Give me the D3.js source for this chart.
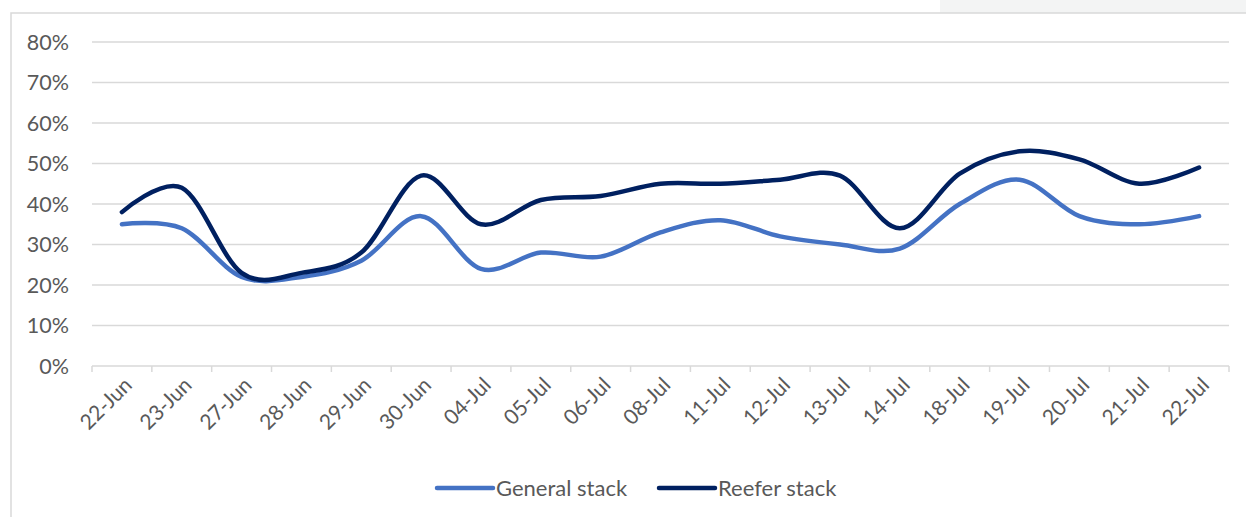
<!DOCTYPE html>
<html>
<head>
<meta charset="utf-8">
<script src="https://cdn.jsdelivr.net/npm/d3@7"></script>
<style>
  html, body { margin: 0; padding: 0; background: #fff; }
  svg { display: block; }
  text { font-family: Lato, "Open Sans", sans-serif; fill: #595959; }
</style>
</head>
<body>
<svg id="chart" width="1246" height="517"></svg>
<script>
const categories = ["22-Jun","23-Jun","27-Jun","28-Jun","29-Jun","30-Jun","04-Jul","05-Jul","06-Jul","08-Jul","11-Jul","12-Jul","13-Jul","14-Jul","18-Jul","19-Jul","20-Jul","21-Jul","22-Jul"];
const generalStack = [35, 34, 22, 22, 26, 37, 24, 28, 27, 33, 36, 32, 30, 29, 40, 46, 37, 35, 37];
const reeferStack  = [38, 44, 23, 23, 28, 47, 35, 41, 42, 45, 45, 46, 47, 34, 47.5, 53, 51, 45, 49];
const yTicks = [0, 10, 20, 30, 40, 50, 60, 70, 80];
const seriesNames = ["General stack", "Reefer stack"];
const seriesColors = ["#4472C4", "#002060"];

const svg = d3.select("#chart");
const W = 1246, H = 517;

// outer frame
svg.append("rect").attr("x", 940).attr("y", 0).attr("width", W - 940).attr("height", 13).attr("fill", "#f3f4f4");
svg.append("rect").attr("x", 11).attr("y", 13).attr("width", W + 10).attr("height", H + 10)
  .attr("fill", "#fff").attr("stroke", "#d9d9d9").attr("stroke-width", 1.5);

const mLeft = 92, mRight = 1229, mTop = 42, mBottom = 366;

const x = d3.scaleBand().domain(categories).range([mLeft, mRight]).padding(0);
const y = d3.scaleLinear().domain([0, 80]).range([mBottom, mTop]);

// gridlines
svg.append("g").selectAll("line").data(yTicks).join("line")
  .attr("x1", mLeft).attr("x2", mRight)
  .attr("y1", d => y(d)).attr("y2", d => y(d))
  .attr("stroke", "#d9d9d9").attr("stroke-width", 1.5);

// y labels
svg.append("g").selectAll("text").data(yTicks).join("text")
  .attr("x", 69).attr("y", d => y(d)).attr("dy", "0.36em")
  .attr("text-anchor", "end").attr("font-size", 21.5)
  .text(d => d + "%");

// x axis ticks
const tickPos = categories.map(c => x(c)).concat([mRight]);
svg.append("g").selectAll("line").data(tickPos).join("line")
  .attr("x1", d => d).attr("x2", d => d)
  .attr("y1", mBottom).attr("y2", mBottom + 6)
  .attr("stroke", "#d9d9d9").attr("stroke-width", 1.5);

// x labels
svg.append("g").selectAll("text").data(categories).join("text")
  .attr("transform", d => `translate(${x(d) + x.bandwidth() / 2 + 6},${mBottom + 15}) rotate(-45)`)
  .attr("text-anchor", "end").attr("dy", "0.36em").attr("font-size", 21)
  .text(d => d);

// lines
const line = d3.line()
  .x((d, i) => x(categories[i]) + x.bandwidth() / 2)
  .y(d => y(d))
  .curve(d3.curveCardinal.tension(0));

[generalStack, reeferStack].forEach((s, k) => {
  svg.append("path").datum(s)
    .attr("d", line)
    .attr("fill", "none")
    .attr("stroke", seriesColors[k])
    .attr("stroke-width", 4.5)
    .attr("stroke-linecap", "round")
    .attr("stroke-linejoin", "round");
});

// legend
const legendItems = [
  { name: seriesNames[0], color: seriesColors[0], x: 437 },
  { name: seriesNames[1], color: seriesColors[1], x: 659 }
];
const lg = svg.append("g");
legendItems.forEach(it => {
  lg.append("line").attr("x1", it.x).attr("x2", it.x + 56)
    .attr("y1", 488).attr("y2", 488)
    .attr("stroke", it.color).attr("stroke-width", 4.5).attr("stroke-linecap", "round");
  lg.append("text").attr("x", it.x + 59).attr("y", 488).attr("dy", "0.36em")
    .attr("font-size", 22).text(it.name);
});
</script>
</body>
</html>
